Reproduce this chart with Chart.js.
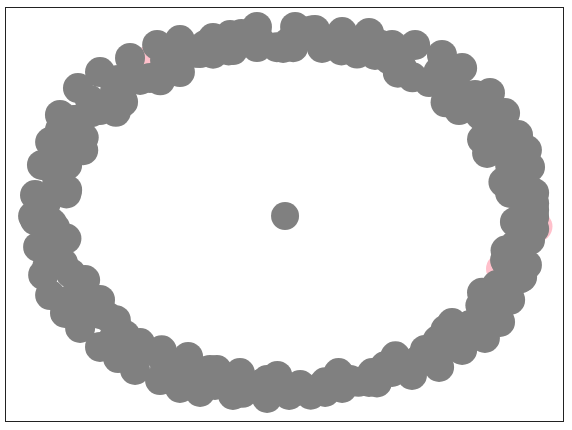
<!DOCTYPE html>
<html>
<head>
<meta charset="utf-8">
<script src="https://cdn.jsdelivr.net/npm/chart.js@4/dist/chart.umd.min.js"></script>
<style>
  html, body { margin: 0; padding: 0; background: #fff; }
  #wrap { width: 572px; height: 430px; }
</style>
</head>
<body>
<div id="wrap"><canvas id="ringChart"></canvas></div>
<script>
// ring of gray points
const ringX = [
  -0.117, -0.229, -0.300, -0.438, -0.533, -0.646, -0.771, -0.863, -0.938, -0.979, -1.013, -1.042,
  -0.438, -0.563, -0.675, -0.771, -0.883, -0.908, -0.908, -0.217, -0.117, -0.008, -0.354,
  -0.333, -0.500, -0.604, -0.708, -0.813, -0.875, -0.938,
  0.042, 0.125, 0.238, 0.350, 0.542, 0.654, 0.738, 0.854, 0.917, 0.971, 1.008, 1.021, 1.038, 1.038,
  0.017, 0.154, 0.267, 0.375, 0.488, 0.600, 0.725, 0.813, 0.842, 0.938,
  0.446, 0.458, 0.708, 0.792, 0.896, 0.938, 0.958,
  -1.042, -1.029, -1.008, -0.979, -0.917, -0.854, -0.771, -0.696, -0.625, -0.521, -0.438, -0.354, -0.217, -0.075,
  -0.971, -0.946, -0.925, -0.833, -0.771, -0.738, -0.604, -0.404, -0.188, -0.075,
  -0.667, -0.521, -0.313, -0.292, -0.979, -0.896,
  0.017, 0.167, 0.350, 0.529, 0.642, 0.738, 0.833, 0.896, 0.938, 0.988, 1.008, 1.021, 1.038,
  0.142, 0.238, 0.363, 0.446, 0.583, 0.696, 0.821, 0.883, 0.917, 0.958,
  0.063, 0.271, 0.479, 0.646, 0.771, 0.854, 0.958,
  0.990, 0.951, 0.961, 0.868, 0.840, 0.735, 0.669, 0.531, 0.434, 0.300, 0.175, 0.034,
  -0.105, -0.235, -0.375, -0.475, -0.610, -0.691, -0.809, -0.839, -0.930, -0.949, -0.998,
  -0.958, -0.968, -0.893, -0.883, -0.769, -0.712, -0.591, -0.500, -0.356, -0.240, -0.100,
  0.035, 0.167, 0.306, 0.416, 0.554, 0.636, 0.758, 0.814, 0.914, 0.923, 0.990,
  1.038, 0.910, 0.977, 0.821, 0.841, 0.669, 0.640, 0.470, 0.394, 0.235, 0.111, -0.034,
  -0.182, -0.300, -0.456, -0.520, -0.696, -0.705, -0.873, -0.841, -0.999, -0.911, -1.050,
  -0.911, -0.990, -0.841, -0.873, -0.705, -0.689, -0.514, -0.451, -0.284, -0.177, -0.032,
  0.107, 0.223, 0.383, 0.460, 0.628, 0.669, 0.833, 0.821, 0.977, 0.919, 1.038
];
const ringY = [
  1.074, 1.028, 1.011, 1.000, 0.972, 0.898, 0.818, 0.727, 0.574, 0.420, 0.290, 0.119,
  0.818, 0.784, 0.648, 0.602, 0.415, 0.290, 0.148, 0.943, 0.960, 0.955, 0.926,
  0.972, 0.886, 0.773, 0.716, 0.659, 0.545, 0.489,
  1.074, 1.057, 1.045, 1.040, 0.972, 0.915, 0.841, 0.699, 0.585, 0.460, 0.375, 0.278, 0.131, 0.034,
  0.989, 0.955, 0.960, 0.915, 0.841, 0.761, 0.602, 0.574, 0.358, 0.131,
  0.972, 0.915, 0.744, 0.688, 0.432, 0.290, 0.233,
  -0.023, -0.176, -0.335, -0.449, -0.551, -0.636, -0.744, -0.807, -0.875, -0.932, -0.977, -1.000, -1.017, -1.034,
  -0.040, -0.176, -0.267, -0.364, -0.477, -0.574, -0.722, -0.801, -0.892, -0.932,
  -0.676, -0.790, -0.875, -0.960, -0.250, -0.477,
  -1.017, -1.000, -0.943, -0.903, -0.858, -0.761, -0.693, -0.602, -0.477, -0.347, -0.278, -0.136, -0.006,
  -0.977, -0.977, -0.892, -0.886, -0.761, -0.608, -0.506, -0.392, -0.250, -0.034,
  -0.960, -0.932, -0.847, -0.761, -0.619, -0.534, -0.165,
  0.000, 0.134, 0.276, 0.386, 0.525, 0.617, 0.743, 0.788, 0.890, 0.923, 0.995, 0.959,
  0.995, 0.941, 0.927, 0.823, 0.780, 0.667, 0.588, 0.446, 0.339, 0.202, 0.070,
  -0.067, -0.206, -0.325, -0.469, -0.558, -0.688, -0.756, -0.866, -0.881, -0.961, -0.955,
  -0.999, -0.945, -0.942, -0.854, -0.821, -0.706, -0.636, -0.509, -0.407, -0.265, -0.139,
  0.073, 0.193, 0.356, 0.436, 0.611, 0.646, 0.820, 0.814, 0.974, 0.941, 1.054, 0.959,
  1.034, 0.922, 0.935, 0.771, 0.773, 0.592, 0.546, 0.374, 0.287, 0.128, 0.000,
  -0.128, -0.284, -0.374, -0.546, -0.592, -0.765, -0.763, -0.926, -0.875, -1.005, -0.909,
  -1.015, -0.892, -0.946, -0.797, -0.804, -0.646, -0.605, -0.436, -0.356, -0.196, -0.073
];
// pink points, mostly hidden under the ring
const pinkX = [-0.563, 1.052, 0.900];
const pinkY = [0.886, -0.060, -0.300];
// single point in the middle
const centerX = [0];
const centerY = [0];

const toPoints = (xs, ys) => xs.map((x, i) => ({ x: x, y: ys[i] }));

const frame = {
  id: "frame",
  afterDraw(chart) {
    const { ctx, chartArea: a } = chart;
    ctx.save();
    ctx.strokeStyle = "#222";
    ctx.lineWidth = 1;
    ctx.strokeRect(Math.round(a.left) + 0.5, Math.round(a.top) + 0.5,
      Math.round(a.right - a.left) - 1, Math.round(a.bottom - a.top) - 1);
    ctx.restore();
  },
};

new Chart(document.getElementById("ringChart"), {
  type: "scatter",
  data: {
    datasets: [
      {
        label: "ring",
        data: toPoints(ringX, ringY),
        backgroundColor: "#808080",
        borderWidth: 0,
        pointRadius: 15,
        order: 1,
      },
      {
        label: "center",
        data: toPoints(centerX, centerY),
        backgroundColor: "#808080",
        borderWidth: 0,
        pointRadius: 14,
        order: 0,
      },
      {
        label: "pink",
        data: toPoints(pinkX, pinkY),
        backgroundColor: "#ffc0cb",
        borderWidth: 0,
        pointRadius: 15,
        order: 2,
      },
    ],
  },
  options: {
    responsive: true,
    maintainAspectRatio: false,
    animation: false,
    layout: { autoPadding: false, padding: { left: 5, top: 7, right: 8, bottom: 8 } },
    scales: {
      x: { type: "linear", min: -1.167, max: 1.1625, display: false },
      y: { type: "linear", min: -1.1705, max: 1.1875, display: false },
    },
    plugins: {
      legend: { display: false },
      tooltip: { enabled: false },
    },
  },
  plugins: [frame],
});
</script>
</body>
</html>
